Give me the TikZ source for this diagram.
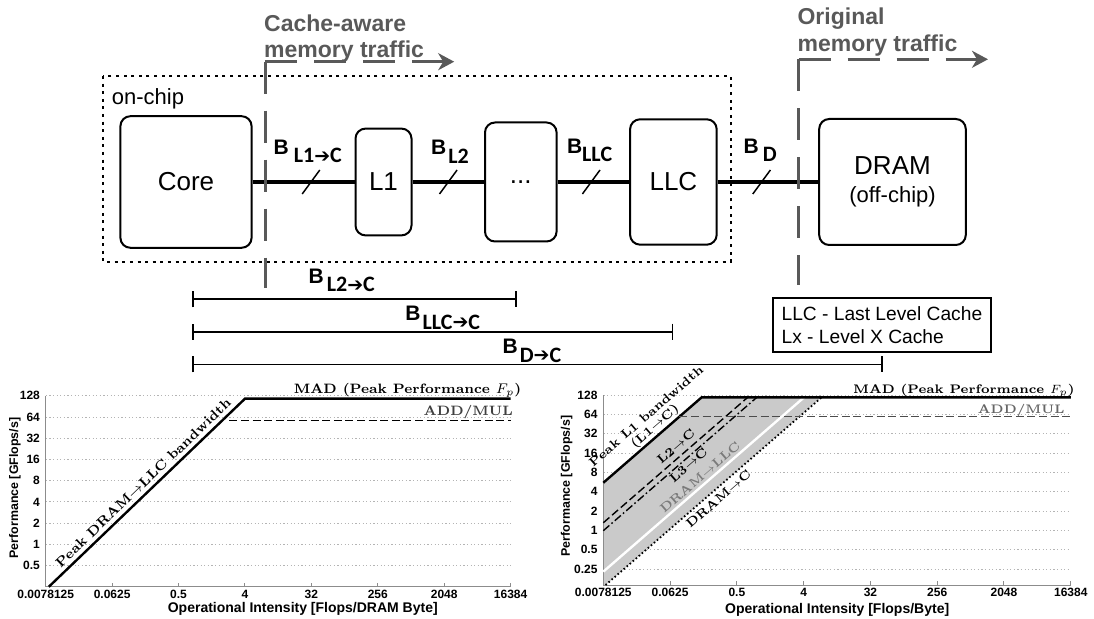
\documentclass[tikz,border=0pt]{standalone}
\usepackage{fontspec}
\setsansfont{Liberation Sans}
\newfontfamily\subfnt{Carlito}
\newfontfamily\arrowfnt{DejaVu Sans}
\usepackage{tikz}
\usetikzlibrary{arrows.meta, positioning}
\definecolor{gray1}{HTML}{595959}
\definecolor{gray2}{HTML}{8C8C8C}
\definecolor{grid1}{HTML}{B4B4B4}
\definecolor{fill1}{HTML}{CACACA}
\definecolor{text1}{HTML}{7A7A7A}
\newcommand{\toC}{{\arrowfnt\fontsize{9.5}{10}\selectfont\raisebox{0.3pt}{➔}}C}
\newcommand{\blab}[2][1pt]{B\hspace{#1}\raisebox{-4.2pt}{\subfnt\bfseries\fontsize{11}{12}\selectfont #2}}
\newcommand{\tickfont}{\fontsize{6}{7}\selectfont\sffamily\bfseries}

\begin{document}
\begin{tikzpicture}[
  x=0.5pt, y=-0.5pt,
  unit/.style      = {draw, line width=1pt, rounded corners=5pt,
                      font=\fontsize{13}{15}\selectfont\sffamily, inner sep=0pt},
  bus/.style       = {line width=1.6pt},
  slash/.style     = {line width=0.75pt},
  bw/.style        = {font=\fontsize{10.5}{12}\selectfont\sffamily\bfseries,
                      inner sep=0pt, anchor=base west},
  traffic/.style   = {draw=gray1, line width=1.5pt, dash pattern=on 16pt off 8.5pt},
  trafficlab/.style= {text=gray1, font=\fontsize{11.5}{13}\selectfont\sffamily\bfseries,
                      inner sep=0pt, anchor=base west},
  spanline/.style  = {line width=0.9pt, {Bar[width=8pt]}-{Bar[width=8pt]}},
  gridline/.style  = {draw=grid1, line width=0.4pt, dash pattern=on 0.6pt off 1.2pt},
  axisline/.style  = {draw=gray2, line width=0.5pt},
  ticklab/.style   = {font=\tickfont, inner sep=0pt},
  axtitle/.style   = {font=\fontsize{7}{8}\selectfont\sffamily\bfseries, inner sep=0pt},
  roof/.style      = {line width=1.2pt},
  addmul/.style    = {line width=0.7pt, dash pattern=on 4pt off 1.8pt},
  curvelab/.style  = {font=\fontsize{6.8}{8}\selectfont\rmfamily\bfseries, inner sep=0pt},
  curvesm/.style   = {font=\fontsize{6.2}{6.4}\selectfont\rmfamily\bfseries, inner sep=0pt}
]
\useasboundingbox (0,0) rectangle (1094,619);

% on-chip frame
\draw[line width=1pt, dash pattern=on 1.5pt off 2.3pt] (102.8,76) rectangle (730.8,261.7);
\node[anchor=west, inner sep=0pt, font=\fontsize{11}{13}\selectfont\sffamily] (chip) at (111.5,99) {on-chip};

% core, caches and memory
\node[unit, minimum width=65.6pt, minimum height=65.8pt] (core) at (186,182)   {Core};
\node[unit, minimum width=28pt,   minimum height=53.4pt] (l1)   at (383.5,182) {L1};
\node[unit, minimum width=35.8pt, minimum height=59.5pt] (dots) at (520.8,182) {...};
\node[unit, minimum width=43.3pt, minimum height=62.7pt] (llc)  at (673.4,182) {LLC};
\node[unit, minimum width=73.3pt, minimum height=63pt, align=center] (dram) at (892.5,182)
     {DRAM\\[-1pt]{\fontsize{11}{12}\selectfont(off-chip)}};

\draw[bus] (core) -- (l1);
\draw[bus] (l1) -- (dots);
\draw[bus] (dots) -- (llc);
\draw[bus] (llc) -- (dram);
\foreach \sx in {311, 448.3, 591.2, 761.6}
  \draw[slash] (\sx,182) +(-8.8,12) -- +(8.8,-12);

% bandwidth labels
\node[bw] (bl1)  at (273.3,154.3) {\blab[2.5pt]{L1\toC}};
\node[bw] (bl2)  at (430.7,155)   {\blab[1pt]{L2}};
\node[bw] (bllc) at (566.6,153.3) {\blab[0pt]{LLC}};
\node[bw] (bd)   at (743.2,153.3) {\blab[2pt]{D}};

% memory traffic borders
\coordinate (ca)    at (265,61.7);
\coordinate (caend) at (265,288.3);
\coordinate (catip) at (454.2,61.7);
\draw[traffic] (ca) -- (caend);
\draw[traffic, -{Stealth[length=8pt, width=8.5pt, inset=2.5pt]}] (ca) -- (catip);
\node[trafficlab] (ca1) at (263.8,31.7) {Cache-aware};
\node[trafficlab] (ca2) at (263.8,57.3) {memory traffic};

\coordinate (om)    at (798.5,59.3);
\coordinate (omend) at (798.5,285);
\coordinate (omtip) at (988,59.3);
\draw[traffic] (om) -- (omend);
\draw[traffic, -{Stealth[length=8pt, width=8.5pt, inset=2.5pt]}] (om) -- (omtip);
\node[trafficlab] (om1) at (797.2,25)   {Original};
\node[trafficlab] (om2) at (797.2,51.7) {memory traffic};

% cumulative bandwidths
\coordinate (sl2)  at (191.7,299.3);
\coordinate (el2)  at (516.7,299.3);
\coordinate (sllc) at (191.7,331.7);
\coordinate (ellc) at (673.3,331.7);
\coordinate (sd)   at (191.7,364.5);
\coordinate (ed)   at (882.7,364.5);
\draw[spanline] (sl2) -- (el2);
\draw[spanline] (sllc) -- (ellc);
\draw[spanline] (sd) -- (ed);
\node[bw] (bl2c)  at (308.3,283.3) {\blab[1.5pt]{L2\toC}};
\node[bw] (bllcc) at (405,320.7)   {\blab[1pt]{LLC\toC}};
\node[bw] (bdc)   at (502.3,354)   {\blab[1pt]{D\toC}};

% legend
\node[draw, line width=1pt, anchor=north west, minimum width=109.2pt, minimum height=27.2pt,
      align=left, inner xsep=3.8pt, font=\fontsize{9.6}{11.35}\selectfont\sffamily]
      (legend) at (771.7,296.7) {LLC - Last Level Cache\\Lx - Level X Cache};

% roofline, DRAM only
\begin{scope}[shift={(22.85pt,-293.4pt)}, x=11.07pt, y=10.615pt]
  \foreach \v/\lab in {1/0.5, 2/1, 3/2, 4/4, 5/8, 6/16, 7/32, 8/64, 9/128} {
    \draw[gridline] (0,\v) -- (21,\v);
    \node[ticklab, left=2.7pt] (ly\v) at (0,\v) {\lab};
  }
  \draw[axisline] (0,0) -- (0,9);
  \draw[axisline] (0,0) -- (21,0);
  \foreach \u/\lab [count=\i] in {0/0.0078125, 3/0.0625, 6/0.5, 9/4, 12/32, 15/256, 18/2048, 21/16384} {
    \draw[axisline] (\u,0) -- ++(0pt,2pt);
    \node[ticklab, below=1.5pt] (lx\i) at (\u,0) {\lab};
  }
  \draw[roof] (0.14,0) -- (9,8.86) -- (21,8.86);
  \draw[addmul] (8.3,7.84) -- (21,7.84);
  \node[curvelab, anchor=base east] (mad1) at (21.5,9.11) {MAD (Peak Performance $F_p$)};
  \node[curvelab, anchor=base east, text=black!75] (am1) at (21.12,8.05) {ADD/MUL};
  \node[curvelab, rotate=43.8] (bwl) at (4.4,4.9) {Peak DRAM$\to$LLC bandwidth};
\end{scope}
\node[axtitle] (xt1) at (302.8,609.3) {Operational Intensity [Flops/DRAM Byte]};
\node[axtitle, font=\fontsize{6.2}{7}\selectfont\sffamily\bfseries, rotate=90] (yt1) at (15,488) {Performance [GFlops/s]};

% cache-aware roofline
\begin{scope}[shift={(301.65pt,-294.15pt)}, x=11.13pt, y=9.665pt]
  \foreach \v/\lab in {1/0.25, 2/0.5, 3/1, 4/2, 5/4, 6/8, 7/16, 8/32, 9/64, 10/128} {
    \draw[gridline] (0,\v) -- (21,\v);
    \node[ticklab, left=2.7pt] (ry\v) at (0,\v) {\lab};
  }
  \fill[fill1] (0,5.46) -- (4.42,9.88) -- (9.81,9.88) -- (0.1,0.17) -- (0,0.17) -- cycle;
  \draw[axisline] (0,0.17) -- (0,10);
  \draw[axisline] (0,0.17) -- (21,0.17);
  \foreach \u/\lab [count=\i] in {0/0.0078125, 3/0.0625, 6/0.5, 9/4, 12/32, 15/256, 18/2048, 21/16384} {
    \draw[axisline] (\u,0.17) -- ++(0pt,2pt);
    \node[ticklab, below=1.5pt] (rx\i) at (\u,0.17) {\lab};
  }
  \draw[white, line width=1.2pt] (0,0.86) -- (9.02,9.88);
  \draw[line width=0.7pt, dash pattern=on 4pt off 1.8pt] (0,3.39) -- (6.49,9.88);
  \draw[line width=0.7pt, dash pattern=on 4pt off 1.4pt on 0.8pt off 1.4pt] (0,2.98) -- (6.9,9.88);
  \draw[line width=0.9pt, dash pattern=on 0.8pt off 1.2pt] (0.1,0.17) -- (9.81,9.88);
  \draw[roof] (0,5.46) -- (4.42,9.88) -- (21,9.88);
  \draw[addmul, draw=black!70] (3.42,8.88) -- (21,8.88);
  \node[curvesm, anchor=base east] (mad2) at (21.19,10.09) {MAD (Peak Performance $F_p$)};
  \node[curvesm, anchor=base east, text=black!60] (am2) at (20.74,9.05) {ADD/MUL};
  \node[curvesm, rotate=41, align=center] (pk) at (2.15,8.6) {Peak L1 bandwidth\\(L1$\to$C)};
  \node[curvesm, rotate=41] (l2c) at (3.26,7.33) {L2$\to$C};
  \node[curvesm, rotate=41] (l3c) at (3.82,6.38) {L3$\to$C};
  \node[curvesm, rotate=41, text=text1] (dl) at (4.34,5.74) {DRAM$\to$LLC};
  \node[curvesm, rotate=41] (dc) at (5.17,4.62) {DRAM$\to$C};
\end{scope}
\node[axtitle] (xt2) at (837.2,609.5) {Operational Intensity [Flops/Byte]};
\node[axtitle, font=\fontsize{6.2}{7}\selectfont\sffamily\bfseries, rotate=90] (yt2) at (566.7,486) {Performance [GFlops/s]};

\end{tikzpicture}
\end{document}
